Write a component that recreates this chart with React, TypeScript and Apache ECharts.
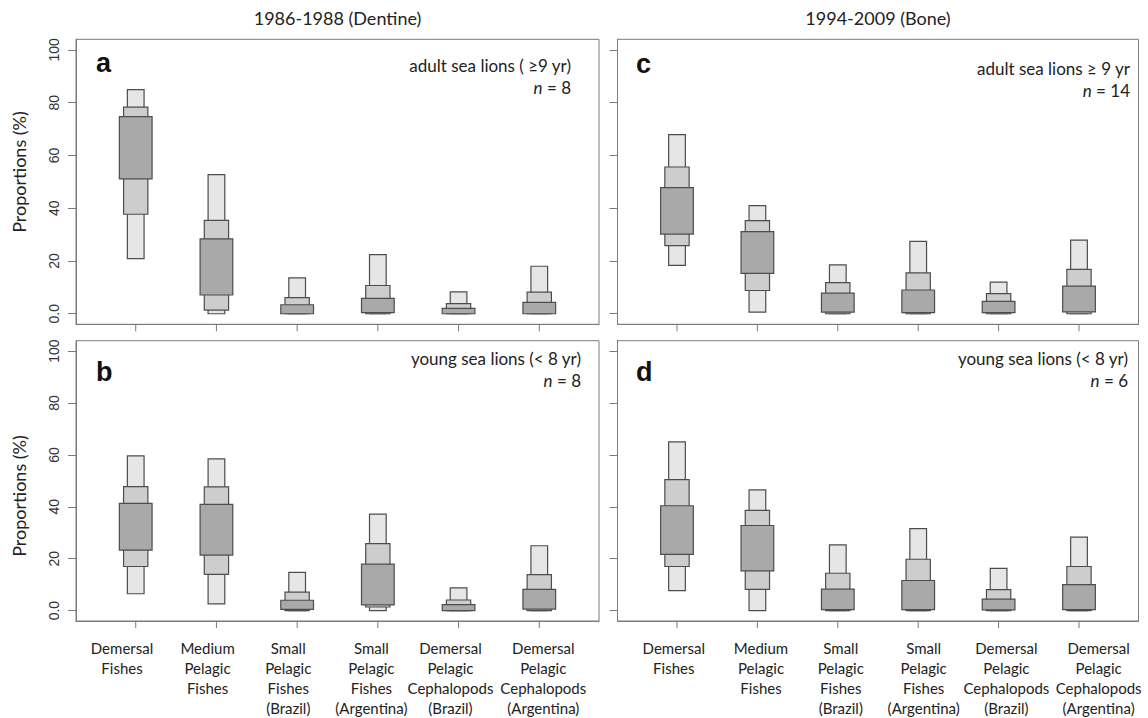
import React, { useEffect, useRef } from "react";
import * as echarts from "echarts";

// ---- data ----
const categoryIndex = [1, 2, 3, 4, 5, 6];
const categories = [
  "Demersal\nFishes",
  "Medium\nPelagic\nFishes",
  "Small\nPelagic\nFishes\n(Brazil)",
  "Small\nPelagic\nFishes\n(Argentina)",
  "Demersal\nPelagic\nCephalopods\n(Brazil)",
  "Demersal\nPelagic\nCephalopods\n(Argentina)",
];
const yTicks = [0, 20, 40, 60, 80, 100];

// credible intervals [low, high] (%), 95 / 75 / 50
const a95 = [[20.9, 84.9], [0, 52.7], [0, 13.6], [0, 22.4], [0, 8.3], [0, 18.0]];
const a75 = [[37.7, 78.3], [1.4, 35.4], [0, 6.1], [0, 10.7], [0, 3.8], [0, 8.2]];
const a50 = [[51.1, 74.7], [7.1, 28.4], [0, 3.4], [0.4, 5.8], [0, 2.0], [0, 4.3]];

const b95 = [[6.5, 59.6], [2.6, 58.5], [0, 14.7], [0, 37.2], [0, 8.8], [0, 25.0]];
const b75 = [[17.0, 47.8], [14.0, 47.7], [0, 7.1], [1.4, 25.8], [0, 4.1], [0, 13.9]];
const b50 = [[23.3, 41.3], [21.4, 40.9], [0.5, 4.0], [2.2, 17.9], [0, 2.3], [0.6, 8.2]];

const c95 = [[18.3, 67.9], [0.6, 41.0], [0, 18.5], [0, 27.4], [0, 12.0], [0, 27.9]];
const c75 = [[25.8, 55.6], [8.8, 35.3], [0, 11.8], [0, 15.5], [0, 7.6], [0, 16.8]];
const c50 = [[30.2, 47.8], [15.3, 31.1], [0.6, 7.8], [0.4, 9.0], [0.4, 4.7], [0.7, 10.5]];

const d95 = [[7.7, 65.0], [0, 46.5], [0, 25.3], [0, 31.6], [0, 16.3], [0, 28.3]];
const d75 = [[17.0, 50.5], [8.2, 38.6], [0, 14.4], [0, 19.8], [0, 8.1], [0, 17.0]];
const d50 = [[21.7, 40.4], [15.3, 32.8], [0.4, 8.3], [0.4, 11.6], [0.3, 4.4], [0.4, 10.0]];

const columnTitles = ["1986-1988 (Dentine)", "1994-2009 (Bone)"];
const panelLetters = ["a", "b", "c", "d"];
const groupLabels = [
  "adult sea lions ( ≥9 yr)",
  "young sea lions (< 8 yr)",
  "adult sea lions ≥ 9 yr",
  "young sea lions (< 8 yr)",
];
const sampleSizes = [8, 8, 14, 6];

// ---- layout / style ----
const W = 1148;
const H = 718;
const Y_MIN = -4;
const Y_MAX = 104;
const grids = [
  { left: 76, top: 39.3, width: 523, height: 285 }, // a
  { left: 76, top: 340.7, width: 523, height: 282.6 }, // b
  { left: 617.5, top: 39.3, width: 521, height: 285 }, // c
  { left: 617.5, top: 340.7, width: 521, height: 282.6 }, // d
];
// horizontal offset (in category units) of the x labels in bottom panels
const labelShiftB = [-0.17, -0.11, -0.11, -0.08, -0.1, 0.05];
const labelShiftD = [-0.04, 0.045, 0.037, 0.068, 0.097, 0.244];
const annotRight = [571, 581, 1130, 1128];
const annotY = [65, 358, 68, 358];
const letterY = [63, 372, 64, 372];
const letterX = [96, 96, 636, 636];

const FILLS = ["#e6e6e6", "#cdcdcd", "#a9a9a9"];
const WIDTHS = [16.7, 24.3, 32.7];
const STROKE = "#4d4d4d";
const FRAME = "#7a7a7a";
const TEXT = "#222222";
const TICK_LEN = 7;
const LABEL_FONT = "Lato, 'Open Sans', sans-serif";

function buildRows(p95: number[][], p75: number[][], p50: number[][]) {
  return categoryIndex.map((c, i) => [
    c,
    p95[i][0], p95[i][1],
    p75[i][0], p75[i][1],
    p50[i][0], p50[i][1],
  ]);
}

const panelData = [
  buildRows(a95, a75, a50),
  buildRows(b95, b75, b50),
  buildRows(c95, c75, c50),
  buildRows(d95, d75, d50),
];

function renderItem(params: any, api: any) {
  const x = api.value(0);
  // category tick below the frame (at the axis minimum)
  const base = api.coord([x, Y_MIN]);
  const children: any[] = [
    {
      type: "line",
      shape: { x1: base[0], y1: base[1], x2: base[0], y2: base[1] + TICK_LEN },
      style: { stroke: FRAME, lineWidth: 1 },
    },
  ];
  [0, 1, 2].forEach((k) => {
    const lo = api.coord([x, api.value(1 + 2 * k)]);
    const hi = api.coord([x, api.value(2 + 2 * k)]);
    const w = WIDTHS[k];
    children.push({
      type: "rect",
      shape: { x: hi[0] - w / 2, y: hi[1], width: w, height: lo[1] - hi[1] },
      style: { fill: FILLS[k], stroke: STROKE, lineWidth: 1.2 },
    });
  });
  return { type: "group", children };
}

function nearestName(v: number) {
  const idx = Math.round(v) - 1;
  return categories[idx] ?? "";
}

export default function App() {
  const ref = useRef<HTMLDivElement>(null);

  useEffect(() => {
    if (!ref.current) return;
    const chart = echarts.init(ref.current, undefined, { renderer: "svg" });

    const isBottom = [false, true, false, true];
    const isLeft = [true, true, false, false];

    const xAxis = grids.map((_, i) => {
      const shifts = i === 1 ? labelShiftB : labelShiftD;
      return {
        type: "value",
        gridIndex: i,
        position: "bottom",
        min: 0.26,
        max: 6.74,
        splitLine: { show: false },
        axisLine: { show: true, onZero: false, lineStyle: { color: FRAME, width: 1 } },
        axisTick: { show: false },
        axisLabel: {
          show: isBottom[i],
          customValues: categoryIndex.map((c, k) => c + shifts[k]),
          formatter: (v: number) => nearestName(v),
          margin: 17,
          align: "center",
          verticalAlign: "top",
          lineHeight: 20,
          fontSize: 15,
          fontFamily: LABEL_FONT,
          color: TEXT,
        },
      };
    });

    const yAxis = grids.map((_, i) => ({
      type: "value",
      gridIndex: i,
      position: "left",
      min: Y_MIN,
      max: Y_MAX,
      splitLine: { show: false },
      axisLine: { show: true, onZero: false, lineStyle: { color: FRAME, width: 1 } },
      axisTick: {
        show: true,
        inside: false,
        length: 8,
        customValues: yTicks,
        lineStyle: { color: FRAME, width: 1 },
      },
      axisLabel: {
        show: isLeft[i],
        customValues: yTicks,
        formatter: (v: number) => (v === 0 ? "0.0" : String(v)),
        rotate: 90,
        margin: 15,
        fontSize: 14,
        fontFamily: "'Liberation Sans', Arial, sans-serif",
        color: "#333333",
      },
    }));

    const series = panelData.map((rows, i) => ({
      type: "custom",
      xAxisIndex: i,
      yAxisIndex: i,
      renderItem,
      encode: { x: 0, y: [1, 2, 3, 4, 5, 6] },
      data: rows,
      clip: false,
    }));

    const graphic: any[] = [];
    columnTitles.forEach((t, k) => {
      const g = grids[k * 2];
      graphic.push({
        type: "text",
        x: g.left + g.width / 2,
        y: 18,
        style: {
          text: t,
          align: "center",
          verticalAlign: "middle",
          font: `18px ${LABEL_FONT}`,
          fill: TEXT,
        },
      });
    });
    [0, 1].forEach((i) => {
      graphic.push({
        type: "text",
        x: 19,
        y: i === 0 ? 172 : 496,
        rotation: Math.PI / 2,
        style: {
          text: "Proportions (%)",
          align: "center",
          verticalAlign: "middle",
          font: `18px ${LABEL_FONT}`,
          fill: TEXT,
        },
      });
    });
    grids.forEach((g, i) => {
      graphic.push({
        type: "text",
        x: letterX[i],
        y: letterY[i],
        style: {
          text: panelLetters[i],
          align: "left",
          verticalAlign: "middle",
          font: "bold 27px 'Liberation Sans', Arial, sans-serif",
          fill: "#111111",
        },
      });
      graphic.push({
        type: "text",
        x: annotRight[i],
        y: annotY[i],
        style: {
          text: groupLabels[i],
          align: "right",
          verticalAlign: "middle",
          font: `17px ${LABEL_FONT}`,
          fill: TEXT,
        },
      });
      graphic.push({
        type: "text",
        x: annotRight[i],
        y: annotY[i] + 22.5,
        style: {
          text: `{i|n} = ${sampleSizes[i]}`,
          align: "right",
          verticalAlign: "middle",
          font: `17px ${LABEL_FONT}`,
          fill: TEXT,
          rich: {
            i: { fontStyle: "italic", fontSize: 17, fontFamily: LABEL_FONT, fill: TEXT },
          },
        },
      });
    });

    chart.setOption({
      animation: false,
      backgroundColor: "#ffffff",
      grid: grids.map((g) => ({
        left: g.left,
        top: g.top,
        width: g.width,
        height: g.height,
        show: true,
        borderColor: FRAME,
        borderWidth: 1,
        backgroundColor: "transparent",
        containLabel: false,
      })),
      xAxis,
      yAxis,
      series,
      graphic,
    });

    return () => chart.dispose();
  }, []);

  return (
    <div
      ref={ref}
      style={{ position: "fixed", left: 0, top: 0, width: W, height: H, background: "#fff" }}
    />
  );
}
